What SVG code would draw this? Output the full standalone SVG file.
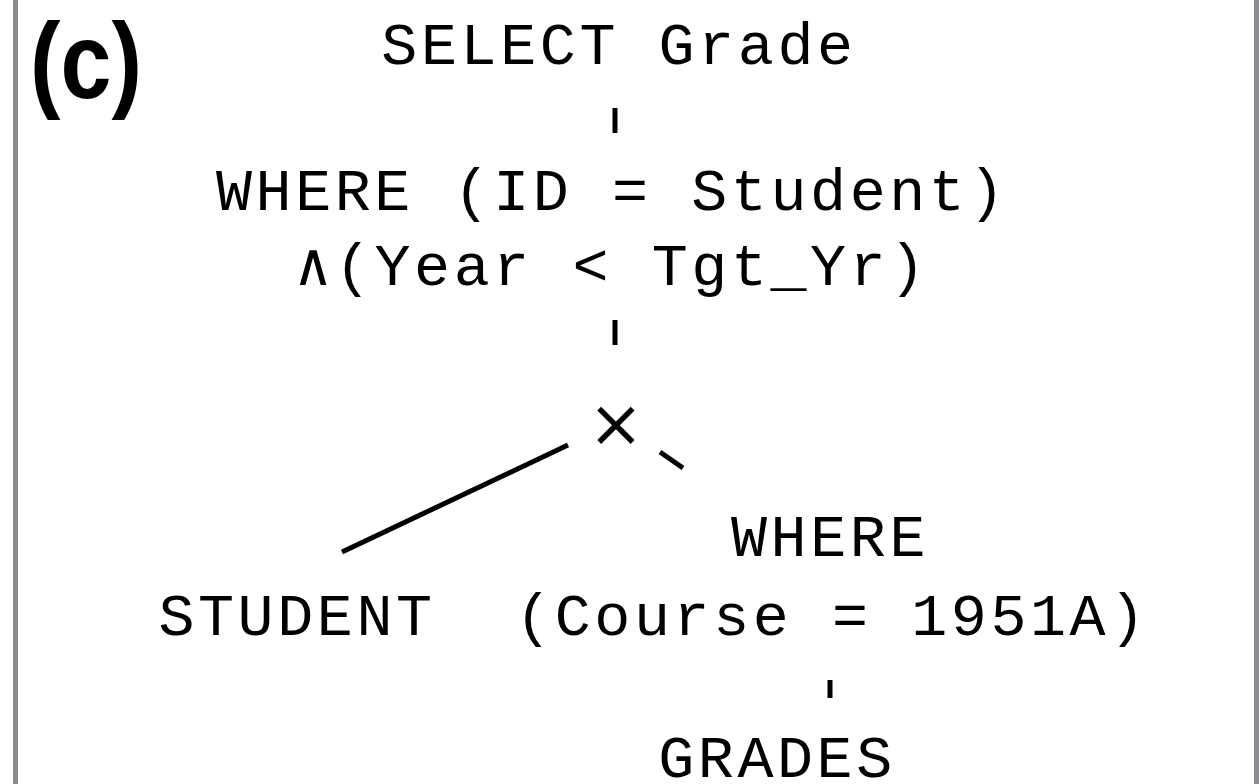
<svg xmlns="http://www.w3.org/2000/svg" width="1259" height="784" viewBox="0 0 1259 784">
<style>
.t{font-family:"Liberation Mono","Courier New",monospace;font-size:60px;letter-spacing:3.6px;fill:#000;text-anchor:middle}
.c{stroke:#000;stroke-width:5;stroke-linecap:butt;fill:none}
</style>
<rect width="1259" height="784" fill="#fff"/>
<line x1="15.5" y1="0" x2="15.5" y2="784" stroke="#8a8c90" stroke-width="5"/>
<line x1="1256.5" y1="0" x2="1256.5" y2="784" stroke="#8a8c90" stroke-width="5"/>
<text x="30" y="98" font-family="Liberation Sans, sans-serif" font-weight="bold" font-size="108" textLength="112" lengthAdjust="spacingAndGlyphs">(c)</text>
<g id="select"><text class="t" x="619" y="64">SELECT Grade</text></g>
<g id="where1"><text class="t" x="612" y="210">WHERE (ID = Student)</text><text class="t" x="612" y="285">∧(Year &lt; Tgt_Yr)</text></g>
<g id="cross"><text x="616" y="446" font-family="DejaVu Sans, sans-serif" font-size="66" text-anchor="middle">×</text></g>
<g id="student"><text class="t" x="297" y="635">STUDENT</text></g>
<g id="where2"><text class="t" x="830" y="556">WHERE</text><text class="t" x="832" y="635">(Course = 1951A)</text></g>
<g id="grades"><text class="t" x="777" y="777">GRADES</text></g>
<g id="connectors">
<line class="c" x1="615" y1="108" x2="615" y2="133"/>
<line class="c" x1="615" y1="320" x2="615" y2="345"/>
<line class="c" x1="342" y1="552" x2="568" y2="445"/>
<line class="c" x1="660" y1="452" x2="683" y2="468"/>
<line class="c" x1="830" y1="680" x2="830" y2="698"/>
</g>
</svg>
